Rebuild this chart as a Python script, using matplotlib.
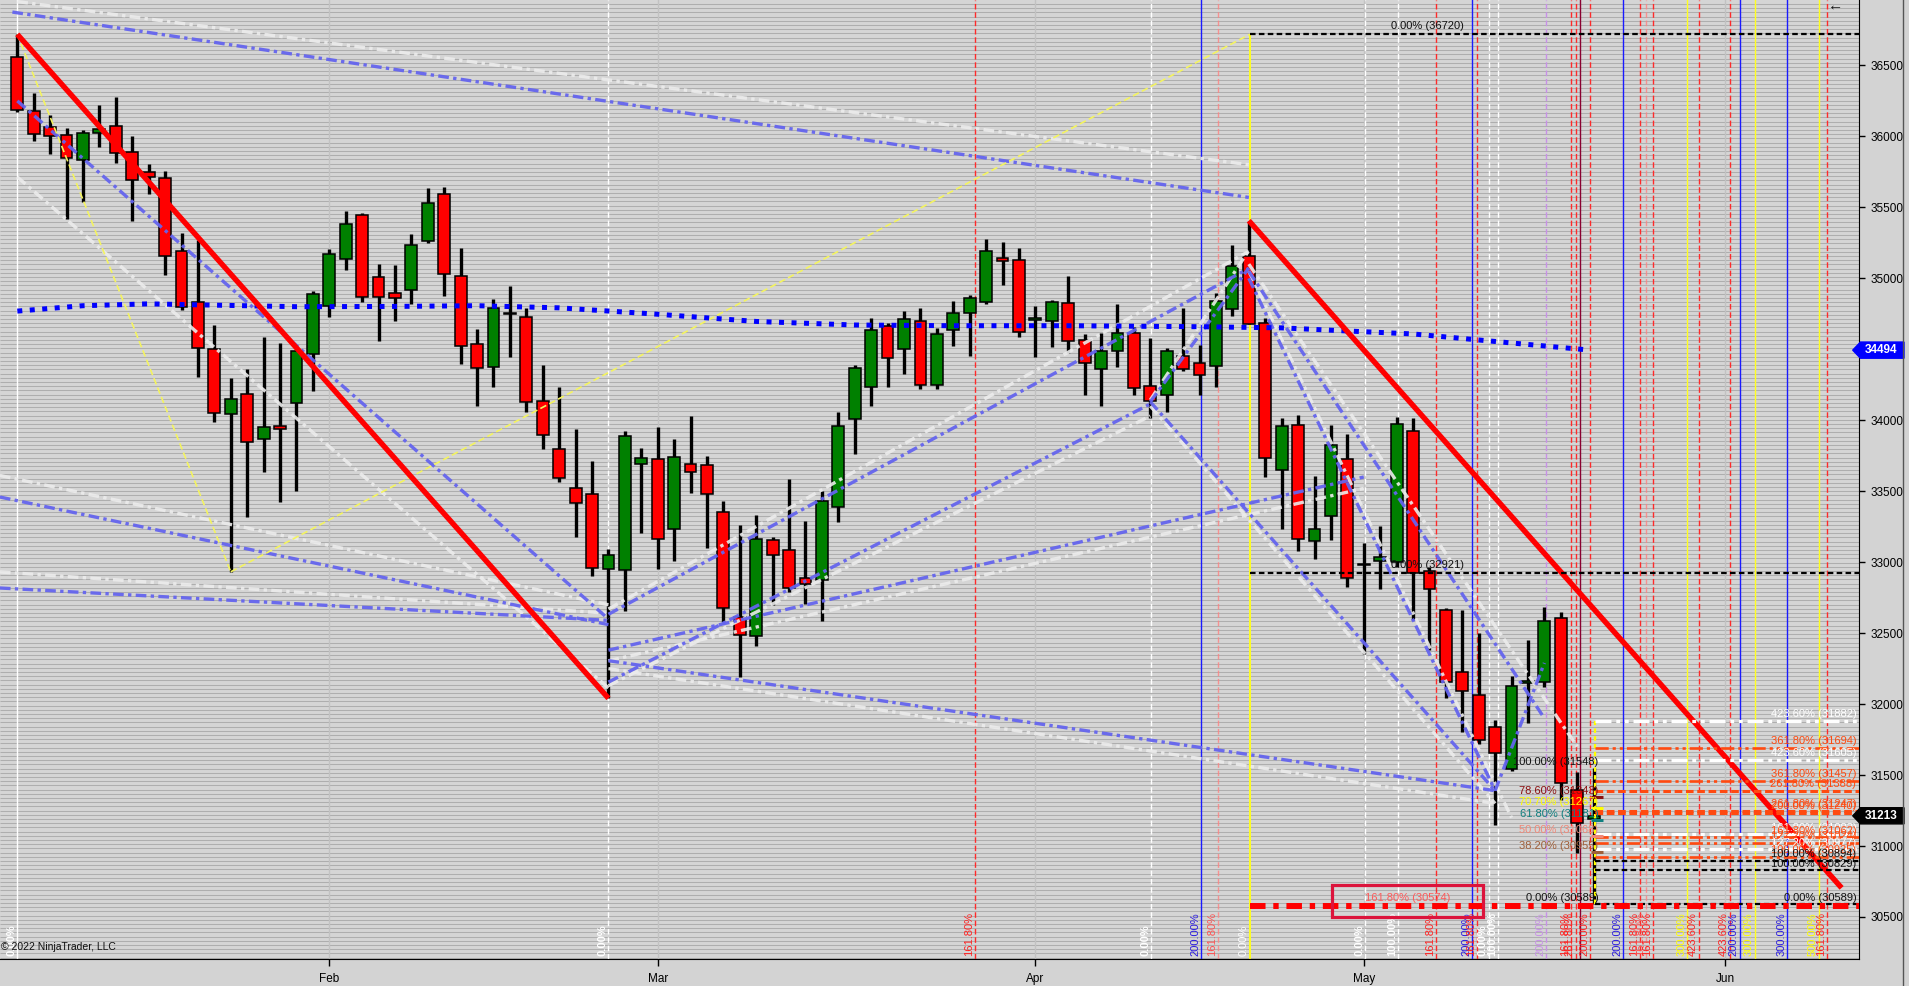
import numpy as np
import matplotlib
matplotlib.use('Agg')
import matplotlib.pyplot as plt
from matplotlib.patches import Rectangle, Polygon
from matplotlib.lines import Line2D
import matplotlib.transforms as mtransforms

plt.rcParams['font.family'] = ['Liberation Sans', 'DejaVu Sans']

# ---------------- data ----------------
opens = [36556, 36181, 36063, 36012, 35831, 36022, 36075, 35891, 35746, 35710,
         35189, 34830, 34500, 34042, 34188, 33866, 33956, 34120, 34465, 34807,
         35134, 35444, 35008, 34895, 34915, 35260, 35597, 35013, 34535, 34374,
         34759, 34724, 34138, 33795, 33521, 33483, 32955, 32942, 33690, 33725,
         33232, 33690, 33682, 33357, 32613, 32477, 33154, 33083, 32887, 32872,
         33388, 34007, 34233, 34666, 34500, 34701, 34251, 34634, 34757, 34835,
         35142, 35127, 34707, 34696, 34825, 34563, 34359, 34485, 34618, 34239,
         34176, 34455, 34400, 34379, 34782, 35159, 34686, 33650, 33964, 33146,
         33325, 33730, 32990, 33011, 32998, 33921, 32940, 32662, 32223, 32064,
         31836, 31540, 32146, 32153, 32606, 31394, 31190]
highs = [36719, 36304, 36148, 36058, 36042, 36221, 36276, 36002, 35803, 35756,
         35318, 35267, 34669, 34296, 34359, 34586, 34543, 34495, 34908, 35205,
         35474, 35459, 35099, 35091, 35310, 35637, 35642, 35215, 34641, 34852,
         34945, 34794, 34389, 34233, 33936, 33710, 33091, 33921, 33803, 33951,
         33868, 34029, 33748, 33430, 33262, 33332, 33176, 33586, 33290, 33501,
         34055, 34387, 34721, 34684, 34767, 34789, 34653, 34840, 34880, 35275,
         35255, 35215, 34805, 34845, 35016, 34606, 34613, 34820, 34659, 34578,
         34508, 34792, 34528, 34895, 35232, 35406, 34719, 34015, 34035, 33607,
         33964, 33901, 33136, 33255, 34025, 34013, 32968, 32679, 32663, 32498,
         31887, 32198, 32451, 32686, 32651, 31524, 31548]
lows = [36171, 35970, 35879, 35416, 35537, 35927, 35816, 35406, 35597, 35026,
        34774, 34304, 33989, 32932, 33317, 33637, 33423, 33503, 34203, 34724,
        35059, 34832, 34555, 34701, 34820, 35250, 34877, 34399, 34097, 34236,
        34445, 34060, 33795, 33564, 33179, 32905, 32041, 32653, 33209, 32955,
        33010, 33488, 33103, 32577, 32192, 32406, 32696, 32791, 32708, 32582,
        33280, 33765, 34102, 34231, 34329, 34218, 34218, 34525, 34450, 34822,
        34956, 34588, 34445, 34515, 34475, 34181, 34098, 34374, 34181, 34017,
        34055, 34344, 34181, 34231, 34732, 34676, 33597, 33234, 33081, 33023,
        33154, 32822, 32356, 32809, 32968, 32592, 32381, 32040, 31805, 31716,
        31148, 31530, 31869, 32118, 31324, 30948, 30589]
closes = [36183, 36015, 36000, 35846, 36022, 36050, 35881, 35690, 35713, 35154,
          34799, 34510, 34050, 34148, 33846, 33951, 33936, 34485, 34888, 35172,
          35386, 34865, 34870, 34860, 35232, 35534, 35028, 34523, 34367, 34794,
          34747, 34128, 33898, 33592, 33415, 32960, 33048, 33886, 33732, 33161,
          33740, 33634, 33478, 32676, 32489, 33161, 33048, 32817, 32844, 33428,
          33959, 34367, 34633, 34437, 34711, 34251, 34606, 34758, 34860, 35190,
          35122, 34621, 34719, 34830, 34555, 34402, 34490, 34613, 34226, 34138,
          34485, 34359, 34317, 34842, 35084, 34681, 33735, 33962, 33162, 33232,
          33828, 32892, 32980, 33036, 33971, 32921, 32810, 32158, 32092, 31747,
          31653, 32127, 32160, 32585, 31441, 31159, 31213]

month_ticks = [19, 39, 62, 82, 104]
month_labels = ['Feb', 'Mar', 'Apr', 'May', 'Jun']
price_ticks = [30500, 31000, 31500, 32000, 32500, 33000, 33500, 34000, 34500,
               35000, 35500, 36000, 36500]
hidden_price_labels = [34500]   # covered by the 34494 marker in the original

ma_bars = [0, 4, 8, 17, 23, 28, 33, 39, 45, 51, 57, 64, 72, 77, 81, 85, 90, 95.8]
ma_vals = [34769, 34807, 34820, 34800, 34802, 34807, 34792, 34747, 34696, 34671,
           34666, 34666, 34659, 34651, 34629, 34608, 34555, 34494]

# trend lines: (x0, y0, x1, y1)
red_trend = [(0, 36719, 36, 32041), (75, 35406, 111.1, 30705)]
blue_lines = [(-0.3, 36876, 75, 35570), (0, 36250, 36, 32600),
              (-1.06, 33459, 36, 32560), (-1.06, 32818, 36, 32590),
              (36, 32633, 75, 35070), (36, 32380, 82, 33600),
              (36, 32155, 69, 34115), (36, 32306, 90, 31390),
              (69, 34130, 75, 35073), (69, 34130, 90, 31390),
              (75, 35000, 90, 31390), (75, 35050, 93, 31900),
              (90, 31390, 93, 32290)]
white_lines = [(0, 36950, 75, 35800), (0, 35714, 36, 32114),
               (-1.06, 33611, 36, 32700), (-1.06, 32931, 36, 32640),
               (36, 32670, 75, 35190), (36, 32305, 82, 33520),
               (36, 32130, 69, 34030), (36, 32250, 90, 31300),
               (69, 34143, 75, 35196), (69, 34100, 90, 31300),
               (75, 35050, 91, 31200), (75, 35100, 95, 31700)]
yellow_lines = [(0, 36719, 13, 32932), (13, 32932, 75.07, 36720)]

# vertical time lines: bar, label, kind
time_x = [0.0, 36.0, 58.35, 69.05, 72.1, 73.15, 75.07, 82.1, 84.1, 86.4, 88.6, 88.9,
          89.6, 90.2, 93.1, 94.6, 94.9, 95.15, 95.8, 97.8, 98.8, 99.2, 99.6, 101.7,
          102.4, 104.3, 104.9, 105.8, 107.8, 109.7, 110.2]
time_lab = ['0.00%', '0.00%', '161.80%', '0.00%', '200.00%', '161.80%', '0.00%', '0.00%',
            '100.00%', '161.80%', '200.00%', '161.80%', '0.00%', '100.00%', '200.00%',
            '161.80%', '261.80%', '', '200.00%', '200.00%', '161.80%', '161.80%',
            '161.80%', '300.00%', '423.60%', '423.60%', '200.00%', '300.00%', '300.00%',
            '500.00%', '161.80%']
time_kind = ['w', 'w', 'r', 'w', 'b', 'lr', 'y', 'w', 'w', 'r', 'b', 'r', 'w', 'w', 'lv',
             'r', 'r', 'dr', 'r', 'b', 'r', 'lr', 'r', 'y', 'r', 'r', 'b', 'y', 'b', 'y', 'r']

# horizontal fib levels
fib_vals = [36720, 32921, 31882, 31694, 31605, 31457, 31388, 31247, 31233, 31083,
            31062, 31024, 30977, 30925, 30894, 30829, 30589]
fib_start = [75.07, 75.07, 96.1, 96.1, 96.1, 96.1, 96.1, 96.1, 96.1, 96.1,
             96.1, 96.1, 96.1, 96.1, 96.1, 96.1, 96.1]
fib_kind = ['k', 'k', 'w', 'o', 'w', 'o', 'od', 'od', 'od', 'w', 'o', 'o', 'w', 'o',
            'k', 'k', 'k']
fib_lab = ['0.00% (36720)', '0.00% (32921)', '423.60% (31882)', '361.80% (31694)',
           '423.60% (31605)', '361.80% (31457)', '261.80% (31388)', '261.80% (31247)',
           '200.00% (31240)', '161.80% (31083)', '161.80% (31062)', '127.20% (31024)',
           '127.20% (30977)', '100.00% (30925)', '100.00% (30894)', '100.00% (30829)',
           '0.00% (30589)']

retr_vals = [31548, 31343, 31267, 31181, 31068, 30955, 30589]
retr_lab = ['100.00% (31548)', '78.60% (31343)', '70.70% (31267)', '61.80% (31181)',
            '50.00% (31068)', '38.20% (30955)', '0.00% (30589)']
retr_col = ['#111111', '#8b1010', '#ffff00', '#108080', '#f08878', '#a0603a', '#111111']

ext_level = 30574
ext_label = '161.80% (30574)'
last_ma = 34494
last_close = 31213

# ---------------- figure ----------------
W, H = 1909, 986
fig = plt.figure(figsize=(W / 100, H / 100), dpi=100, facecolor='#d3d3d3')
ax = fig.add_axes([0, 27 / H, 1859 / W, 959 / H])
ax.set_facecolor('#d5d5d5')
x0, x1 = -1.054, 112.16
y0, y1 = 30204, 36961
ax.set_xlim(x0, x1)
ax.set_ylim(y0, y1)

# background stripes
ax.hlines(np.arange(y0 + 10, y1, 29.6), x0, x1, color='#aeaeae', lw=0.75, zorder=0)
for m in month_ticks:
    ax.axvline(m, color='#c2c2c2', lw=1.0, zorder=0.5)

# vertical time lines
kcol = {'w': '#ffffff', 'r': '#ff2a2a', 'lr': '#ff8080', 'b': '#1a1aff', 'y': '#ffff20',
        'lv': '#c890e8', 'dr': '#8a0030'}
lcol = {'w': '#ffffff', 'r': '#ff2020', 'lr': '#ff5050', 'b': '#2a1ae0', 'y': '#ffff00',
        'lv': '#c890e8', 'dr': '#8a0030'}
for xv, lab, k in zip(time_x, time_lab, time_kind):
    if k == 'y' and abs(xv - 75.07) < 0.01:
        ax.vlines(xv, y0, 36720, color='#ffff20', lw=1.4, zorder=1.5)
        lc = '#ffffff'
    else:
        ls = '-' if k in ('b', 'y', 'dr') or xv == 0 else (0, (4, 2))
        ax.axvline(xv, color=kcol[k], lw=1.0, ls=ls, zorder=1.5,
                   alpha=0.8 if k == 'lr' else 1)
        lc = lcol[k]
    if lab:
        ax.text(xv - 0.06, 30226, lab, rotation=90, ha='right', va='bottom',
                fontsize=8, color=lc, fontweight='bold' if k == 'w' else 'normal',
                zorder=8)

# candles
o = np.array(opens, float); h = np.array(highs, float)
l = np.array(lows, float); c = np.array(closes, float)
xs = np.arange(len(o))
ax.vlines(xs, l, h, color='black', lw=2.4, zorder=3)
up = c >= o
ax.bar(xs, np.maximum(np.abs(c - o), 9), bottom=np.minimum(o, c), width=0.72,
       color=np.where(up, '#008000', '#ff0000'), edgecolor='black', linewidth=1.1,
       zorder=4)

# dash-dot drawing lines
ddot = (0, (3.2, 1.3, 1.0, 1.3))
for (a, b, cc, d) in white_lines:
    ax.plot([a, cc], [b, d], color='#ececec', lw=2.4, ls=ddot, alpha=0.9, zorder=5)
for (a, b, cc, d) in blue_lines:
    ax.plot([a, cc], [b, d], color='#6464ee', lw=2.4, ls=ddot, alpha=0.95, zorder=5.1)
for (a, b, cc, d) in yellow_lines:
    ax.plot([a, cc], [b, d], color='#f4f460', lw=1.2, ls=(0, (4, 2)), zorder=5.2)

# moving average (blue squares)
ax.plot(ma_bars, ma_vals, color='#0000ff', lw=3.6, ls=(0, (1, 1.5)),
        dash_capstyle='butt', zorder=6)

# red trend lines
for (a, b, cc, d) in red_trend:
    ax.plot([a, cc], [b, d], color='#ff0000', lw=3.9, solid_capstyle='butt', zorder=6.5)

# horizontal fib levels
hcol = {'k': '#000000', 'w': '#ffffff', 'o': '#ff4a10', 'od': '#ff4a10'}
for v, s, k, lab in zip(fib_vals, fib_start, fib_kind, fib_lab):
    if k == 'k':
        ls, lw = (0, (2.5, 1.5)), 1.6
    elif k == 'od':
        ls, lw = (0, (2.5, 1.2)), 2.2
    else:
        ls, lw = (0, (5, 1.5, 1.2, 1.5, 1.2, 1.5)), 1.9 if k == 'o' else 2.3
    ax.hlines(v, s, x1, color=hcol[k], lw=lw, ls=ls, zorder=7)
    if abs(v - 36720) < 1 or abs(v - 32921) < 1:
        ax.text(85.9, v + 25, lab, ha='center', va='bottom', fontsize=8,
                color='#111111', zorder=9)
    else:
        ax.text(112.0, v + 12, lab, ha='right', va='bottom', fontsize=8,
                color='#111111' if k == 'k' else hcol[k], zorder=9)

# red 161.8% extension line + box
ax.hlines(ext_level, 75.07, x1, color='#ff0000', lw=4.3,
          ls=(0, (2.6, 1.3, 0.9, 1.3)), zorder=7.5)
ax.add_patch(Rectangle((80.07, 30502), 9.17, 224, fill=False, edgecolor='#dc143c',
                       lw=2.3, zorder=9))
ax.text(84.65, 30600, ext_label, ha='center', va='bottom', fontsize=8,
        color='#ff5a5a', zorder=9)

# retracement labels near the last bar
for v, lab, col in zip(retr_vals, retr_lab, retr_col):
    ax.text(96.3, v + 10, lab, ha='right', va='bottom', fontsize=8, color=col, zorder=9)
    if col not in ('#111111',):
        ax.hlines(v, 95.85, 96.55, color=col, lw=2.2, zorder=9)
ax.vlines(96.1, 30589, 31882, color='#ffff00', lw=1.6, ls=(0, (2, 1.5)), zorder=4.5)

# axes styling
for sp in ('top', 'left'):
    ax.spines[sp].set_visible(False)
ax.spines['bottom'].set_color('black')
ax.spines['right'].set_color('black')
ax.yaxis.tick_right()
ax.set_yticks(price_ticks)
ax.set_yticklabels(['' if p in hidden_price_labels else str(p) for p in price_ticks])
ax.set_xticks(month_ticks)
ax.set_xticklabels(month_labels)
ax.tick_params(axis='y', length=4, width=1, pad=4, labelsize=8.5, colors='black')
ax.tick_params(axis='x', length=5, width=1, pad=5, labelsize=8.5, colors='black')

# price markers on the axis
bt = mtransforms.blended_transform_factory(ax.transAxes, ax.transData)
def marker(val, face):
    hh = 57
    xa, xb, xc = 1852.7 / 1859, 1860.5 / 1859, 1904 / 1859
    ax.add_patch(Polygon([(xa, val), (xb, val + hh), (xc, val + hh), (xc, val - hh),
                          (xb, val - hh)], closed=True, facecolor=face,
                         edgecolor=face, transform=bt, clip_on=False, zorder=10))
    ax.text(1881 / 1859, val, str(val), transform=bt, ha='center', va='center',
            fontsize=8.5, color='white', fontweight='bold', clip_on=False, zorder=11)
marker(last_ma, '#0000ff')
marker(last_close, '#000000')

# outer frame line and misc text
fig.add_artist(Line2D([1903 / W, 1903 / W], [0, 1], color='#555555', lw=1.0))
fig.text(1 / W, 1 - 947 / H, '\u00a9 2022 NinjaTrader, LLC', fontsize=7.5,
         color='#111111', ha='left', va='center')
fig.text(1836 / W, 1 - 6 / H, '\u2190', fontsize=11, color='#111111',
         ha='center', va='center')

fig.savefig('out.png', dpi=100, facecolor=fig.get_facecolor())
